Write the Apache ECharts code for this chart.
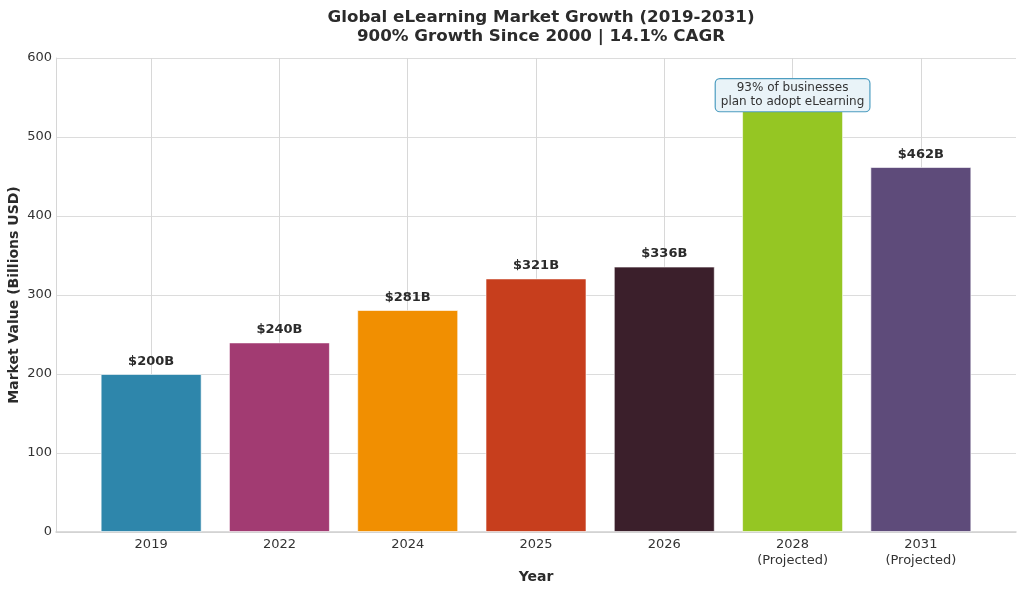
<!DOCTYPE html>
<html>
<head>
<meta charset="utf-8">
<script src="https://cdn.jsdelivr.net/npm/echarts@6/dist/echarts.min.js"></script>
<style>
  html, body { margin: 0; padding: 0; background: #fff; }
  #chart { width: 1024px; height: 592px; }
</style>
</head>
<body>
<div id="chart"></div>
<script>
// data
const years = ['2019', '2022', '2024', '2025', '2026', '2028\n(Projected)', '2031\n(Projected)'];
const marketValues = [200, 240, 281, 321, 336, 544, 462];
const barColors = ['#2E86AB', '#A23B72', '#F18F01', '#C73E1D', '#3B1F2B', '#95C623', '#5E4B7A'];
const yTicks = [0, 100, 200, 300, 400, 500, 600];
const noteText = '93% of businesses\nplan to adopt eLearning';
const noteAt = ['2028\n(Projected)', 553];

const font = 'DejaVu Sans';
const chart = echarts.init(document.getElementById('chart'));

const option = {
  animation: false,
  textStyle: { fontFamily: font },
  title: {
    text: 'Global eLearning Market Growth (2019-2031)\n900% Growth Since 2000 | 14.1% CAGR',
    left: 536,
    textAlign: 'center',
    top: 3,
    textStyle: { fontFamily: font, fontSize: 16.7, fontWeight: 'bold', color: '#2b2b2b', lineHeight: 19 },
  },
  grid: [
    // background frame: horizontal grid lines, left spine, bottom line
    { left: 56, right: 8, top: 58, bottom: 60, outerBoundsMode: 'none' },
    // bars, inset so the category spacing matches the reference
    { left: 87, right: 39, top: 58, bottom: 60, outerBoundsMode: 'none' },
  ],
  xAxis: [
    {
      gridIndex: 0,
      type: 'value',
      min: 0,
      max: 1,
      axisLine: { show: true, lineStyle: { color: '#cfcfcf', width: 1.5 } },
      axisTick: { show: false },
      axisLabel: { show: false },
      splitLine: { show: false },
      name: 'Year',
      nameLocation: 'middle',
      nameGap: 38,
      nameTextStyle: { fontFamily: font, fontSize: 14, fontWeight: 'bold', color: '#2b2b2b' },
    },
    {
      gridIndex: 1,
      type: 'category',
      data: years,
      axisLine: { show: false },
      axisTick: { show: false },
      axisLabel: { color: '#333', fontSize: 13, fontFamily: font, margin: 5, lineHeight: 16 },
      splitLine: { show: false },
    },
  ],
  yAxis: [
    {
      gridIndex: 0,
      type: 'value',
      min: 0,
      max: 600,
      interval: 100,
      axisLine: { show: true, lineStyle: { color: '#d6d6d6' } },
      axisTick: { show: false },
      axisLabel: {
        color: '#333', fontSize: 13, fontFamily: font, margin: 4,
        formatter: v => (yTicks.includes(v) ? String(v) : ''),
      },
      splitLine: { lineStyle: { color: '#dcdcdc', width: 1 } },
      name: 'Market Value (Billions USD)',
      nameLocation: 'middle',
      nameGap: 35,
      nameMoveOverlap: false,
      nameTextStyle: { fontFamily: font, fontSize: 14, fontWeight: 'bold', color: '#2b2b2b' },
    },
    {
      gridIndex: 1,
      type: 'value',
      min: 0,
      max: 600,
      show: false,
    },
  ],
  series: [
    {
      type: 'bar',
      xAxisIndex: 1,
      yAxisIndex: 1,
      barWidth: 101,
      data: marketValues.map((v, i) => ({
        value: v,
        itemStyle: { color: barColors[i], borderColor: 'rgba(255,255,255,0.6)', borderWidth: 1 },
        label: { show: i !== 5 },
      })),
      label: {
        show: true,
        position: 'top',
        distance: 6,
        formatter: p => '$' + p.value + 'B',
        fontFamily: font,
        fontSize: 13,
        fontWeight: 'bold',
        color: '#2b2b2b',
      },
      markLine: {
        silent: true,
        symbol: 'none',
        z: 0,
        label: { show: false },
        lineStyle: { color: '#d8d8d8', width: 1, type: 'solid' },
        data: years.map(y => [{ xAxis: y, y: 58 }, { xAxis: y, y: 532 }]),
      },
      markPoint: {
        symbol: 'circle',
        symbolSize: 1,
        itemStyle: { color: 'rgba(0,0,0,0)' },
        z: 10,
        data: [{ coord: noteAt }],
        label: {
          show: true,
          position: 'inside',
          formatter: noteText,
          fontFamily: font,
          fontSize: 12,
          color: '#333',
          lineHeight: 14,
          align: 'center',
          verticalAlign: 'middle',
          backgroundColor: '#e9f3f8',
          borderColor: '#4d9dc0',
          borderWidth: 1.2,
          borderRadius: 4,
          padding: [2, 5, 2, 5],
        },
      },
    },
  ],
};

chart.setOption(option);
</script>
</body>
</html>
